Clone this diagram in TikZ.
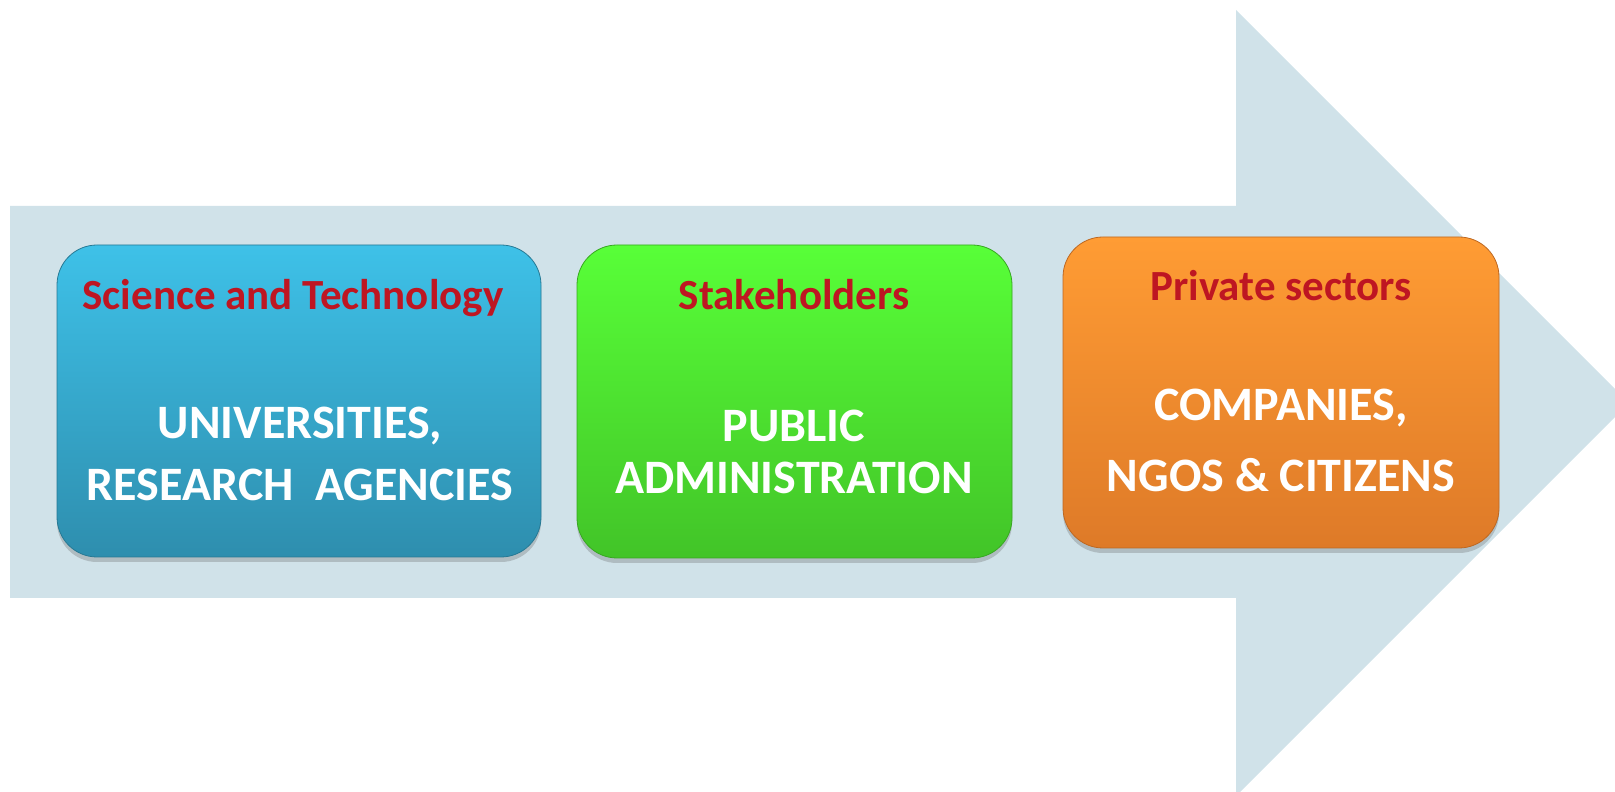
\documentclass[tikz,border=0pt]{standalone}
\usepackage{fontspec}
\setmainfont{Carlito}
\usetikzlibrary{shadows}
\definecolor{arrowblue}{HTML}{D0E2E9}
\definecolor{titlered}{HTML}{BE1622}
\definecolor{sciencetop}{HTML}{3EC1E8}
\definecolor{sciencebot}{HTML}{2E8EAE}
\definecolor{stakertop}{HTML}{58FF38}
\definecolor{stakerbot}{HTML}{42C428}
\definecolor{privtop}{HTML}{FF9C34}
\definecolor{privbot}{HTML}{DE7A28}
\tikzset{
  sectorbox/.style={rounded corners=40bp,inner sep=0pt,line width=0.8pt,
    drop shadow={shadow xshift=0bp,shadow yshift=-5bp,opacity=.3,fill=black!60}},
  sectortitle/.style={anchor=base,text=titlered,inner sep=0pt,
    font=\fontsize{43bp}{48bp}\selectfont\bfseries},
  sectorbody/.style={align=center,text=white,inner sep=0pt},
}
\begin{document}
\begin{tikzpicture}[line join=bevel,]
\clip (0bp,0bp) rectangle (1615bp,792bp);
%%
\fill [arrowblue] (10bp,586bp) -- (1236bp,586bp) -- (1236bp,782bp) -- (1629bp,389bp)
  -- (1236bp,-4bp) -- (1236bp,194bp) -- (10bp,194bp) -- cycle;
%
\node (box_science) at (299bp,391bp) [sectorbox,minimum width=484bp,minimum height=312bp,
  top color=sciencetop,bottom color=sciencebot,draw=sciencebot!85!black] {};
  \node (box_stake) at (794.5bp,390.5bp) [sectorbox,minimum width=435bp,minimum height=313bp,
  top color=stakertop,bottom color=stakerbot,draw=stakerbot!85!black] {};
  \node (box_private) at (1281bp,399.5bp) [sectorbox,minimum width=436bp,minimum height=311bp,
  top color=privtop,bottom color=privbot,draw=privbot!85!black] {};
%
\node (title_science) at (293bp,482bp) [sectortitle] {Science and Technology};
  \node (title_stake) at (794bp,482bp) [sectortitle] {Stakeholders};
  \node (title_private) at (1281bp,491bp) [sectortitle] {Private sectors};
%
\node (body_science) at (300bp,338bp) [sectorbody,font=\fontsize{48bp}{62bp}\selectfont\bfseries]
  {UNIVERSITIES,\\RESEARCH\ \ AGENCIES};
  \node (body_stake) at (794bp,340bp) [sectorbody,font=\fontsize{48bp}{52bp}\selectfont\bfseries]
  {PUBLIC\\ADMINISTRATION};
  \node (body_private) at (1281bp,352bp) [sectorbody,font=\fontsize{48bp}{71bp}\selectfont\bfseries]
  {COMPANIES,\\NGOS \& CITIZENS};
%
\end{tikzpicture}
\end{document}
